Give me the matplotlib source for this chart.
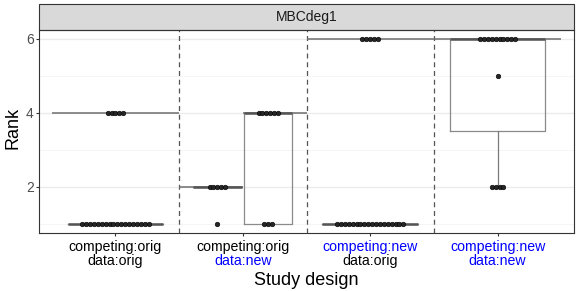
import numpy as np
import matplotlib
matplotlib.use("Agg")
import matplotlib.pyplot as plt
from matplotlib.patches import Rectangle

plt.rcParams['font.family'] = ['Liberation Sans', 'DejaVu Sans']

# ---------------- data ----------------
facet_title = "MBCdeg1"
competing_labels = ["competing:orig", "competing:orig", "competing:new", "competing:new"]
data_labels = ["data:orig", "data:new", "data:orig", "data:new"]
y_ticks = [2, 4, 6]

# boxes: category (1-based), subgroup within category, rank values and counts
box_category = [1, 2, 2, 3, 4]
box_subgroup = ["single", "left", "right", "single", "single"]
box_rank_values = [[1, 4], [1, 2], [1, 4], [1, 6], [2, 5, 6]]
box_rank_counts = [[18, 5], [1, 5], [3, 6], [18, 5], [4, 1, 10]]

# reference rank segments (horizontal lines across designs)
ref_x_start = [0.5, 1.5, 2.0, 2.5]
ref_x_end = [1.5, 2.0, 2.5, 4.5]
ref_rank = [4, 2, 4, 6]

# ---------------- figure ----------------
W, H = 581, 291
fig = plt.figure(figsize=(W / 100, H / 100), dpi=100)
pl, pr, pt, pb = 39, 574, 29.75, 233
ax = fig.add_axes([pl / W, (H - pb) / H, (pr - pl) / W, (pb - pt) / H])
ax.set_xlim(0.4, 4.6)
ax.set_ylim(0.75, 6.25)

# grid
ax.set_yticks(y_ticks)
ax.set_yticks([1, 3, 5], minor=True)
ax.grid(which='major', axis='y', color='#EBEBEB', lw=1.0)
ax.grid(which='minor', axis='y', color='#F4F4F4', lw=0.6)
ax.set_axisbelow(True)

n_cat = len(competing_labels)
ax.set_xticks(np.arange(1, n_cat + 1))
ax.set_xticklabels([''] * n_cat)
ax.tick_params(axis='x', length=2.3, width=0.8, color='#333333')
ax.tick_params(axis='y', which='major', length=2.3, width=0.8, color='#333333',
               labelsize=10, labelcolor='#4D4D4D', pad=1.5)
ax.tick_params(axis='y', which='minor', length=0)
for s in ax.spines.values():
    s.set_color('#333333')
    s.set_linewidth(0.8)

# dashed separators between categories
for xv in np.arange(1.5, n_cat, 1.0):
    ax.axvline(xv, color='#555555', lw=0.9, ls=(0, (4, 3)), zorder=1)

# reference rank segments
ax.hlines(ref_rank, ref_x_start, ref_x_end, color='#6E6E6E', lw=1.1, zorder=2)

# boxplots
sub_offset = {"single": 0.0, "left": -0.2, "right": 0.2}
sub_width = {"single": 0.75, "left": 0.38, "right": 0.38}
box_data, box_pos, box_w = [], [], []
for cat, sub, vals, cnts in zip(box_category, box_subgroup, box_rank_values, box_rank_counts):
    box_data.append(np.repeat(vals, cnts))
    box_pos.append(cat + sub_offset[sub])
    box_w.append(sub_width[sub])

ax.boxplot(box_data, positions=box_pos, widths=box_w, showfliers=False, showcaps=False,
           manage_ticks=False,
           boxprops=dict(color='#8A8A8A', lw=0.9),
           whiskerprops=dict(color='#7A7A7A', lw=0.9),
           medianprops=dict(color='#555555', lw=1.8),
           zorder=3)

# dotplots (centered stacks)
px_per_unit = (pr - pl) / 4.2
dot_step = 3.9 / px_per_unit
for pos, vals, cnts in zip(box_pos, box_rank_values, box_rank_counts):
    for v, n in zip(vals, cnts):
        offs = (np.arange(n) - (n - 1) / 2) * dot_step
        ax.scatter(pos + offs, np.full(n, v), s=11, facecolor='#262626',
                   edgecolor='black', linewidths=0.4, zorder=4)

# x tick labels in two coloured lines
def lab_color(t):
    return '#0000FF' if t.endswith('new') else 'black'

trans = ax.get_xaxis_transform()
ph = pb - pt
for i, (c, d) in enumerate(zip(competing_labels, data_labels)):
    ax.text(i + 1, -(246.7 - pb) / ph, c, transform=trans, ha='center', va='center',
            fontsize=10.2, color=lab_color(c), clip_on=False)
    ax.text(i + 1, -(260.7 - pb) / ph, d, transform=trans, ha='center', va='center',
            fontsize=10.2, color=lab_color(d), clip_on=False)

# axis titles
fig.text((pl + pr) / 2 / W, 1 - 280.7 / H, "Study design", ha='center', va='center', fontsize=13)
fig.text(13 / W, 1 - 128 / H, "Rank", ha='center', va='center', rotation=90, fontsize=13)

# facet strip
strip_h = (pt - 4.2) / ph
ax.add_patch(Rectangle((0, 1), 1, strip_h, transform=ax.transAxes, clip_on=False,
                       facecolor='#D9D9D9', edgecolor='#333333', lw=0.8))
ax.text(0.5, 1 + strip_h / 2, facet_title, transform=ax.transAxes, ha='center', va='center',
        fontsize=10, color='#1A1A1A')

fig.savefig('out.png', dpi=100)
